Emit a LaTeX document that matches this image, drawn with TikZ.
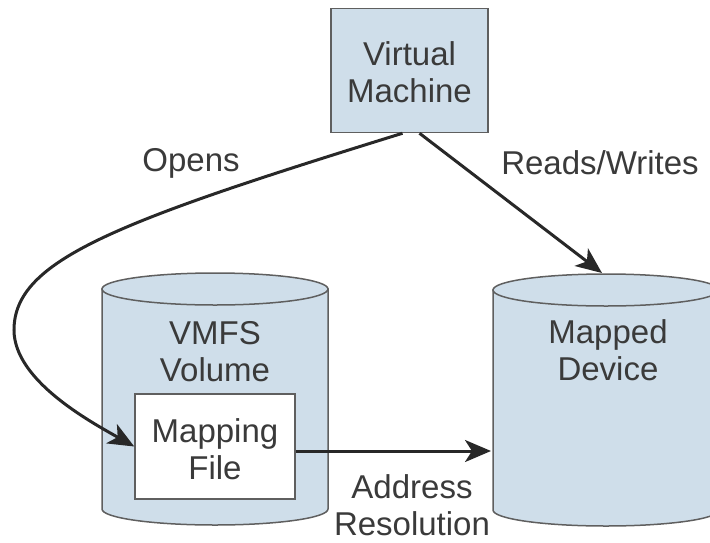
\documentclass[tikz,border=0pt]{standalone}
\usepackage{fontspec}
\setmainfont{Liberation Sans}
\usetikzlibrary{arrows.meta}
\definecolor{cylfill}{RGB}{207,222,234}
\definecolor{edgegray}{RGB}{95,95,95}
\definecolor{txtgray}{RGB}{58,58,58}
\definecolor{arrgray}{RGB}{40,40,40}
\begin{document}
\begin{tikzpicture}[x=1pt,y=-1pt,
  lbl/.style={text=txtgray, align=center, font=\fontsize{33}{37}\selectfont, inner sep=0pt},
  boxed/.style={draw=edgegray, line width=1.5pt, fill=cylfill, inner sep=0pt},
  cyl/.style={draw=edgegray, line width=1.5pt, fill=cylfill},
  arr/.style={draw=arrgray, line width=3pt, -{Stealth[length=26pt,width=22pt,inset=7pt]}}]
\useasboundingbox (0,0) rectangle (710,542);
% VMFS volume cylinder
\path[cyl] (102,289) -- (102,509) arc[start angle=180, end angle=360, x radius=113pt, y radius=16pt] -- (328,289) -- cycle;
\path[cyl] (215,289) ellipse [x radius=113pt, y radius=16pt];
% Mapped device cylinder
\path[cyl] (493,290) -- (493,510) arc[start angle=180, end angle=360, x radius=113pt, y radius=16pt] -- (719,290) -- cycle;
\path[cyl] (606,290) ellipse [x radius=113pt, y radius=16pt];
% nodes
\node[boxed, minimum width=157pt, minimum height=124pt] (vm) at (409.5,70.5) {};
\node[lbl] (vmtxt) at (409.5,72) {Virtual\\Machine};
\node[lbl] (vmfs) at (215,352) {VMFS\\Volume};
\node[lbl] (mdtxt) at (608,350) {Mapped\\Device};
\node[draw=edgegray, line width=1.5pt, fill=white, minimum width=160pt, minimum height=105pt, inner sep=0pt] (mf) at (215,446.5) {};
\node[lbl] (mftxt) at (215,449) {Mapping\\File};
\node[lbl] (opens) at (191,163) {Opens};
\node[lbl] (rw) at (600,163) {Reads/Writes};
\node[lbl] (addr) at (412,505) {Address\\Resolution};
\coordinate (mdtop) at (602,273);
\coordinate (mdleft) at (491,451);
\coordinate (bend) at (14,330);
% connectors
\draw[arr] ([xshift=10pt]vm.south) -- (mdtop);
\draw[arr] ([xshift=-7pt]vm.south) .. controls (116,222) and (14,260) .. (bend) .. controls (14,380) and (89,421) .. (mf.west);
\draw[arr] ([yshift=-4.5pt]mf.east) -- (mdleft);
\end{tikzpicture}
\end{document}
